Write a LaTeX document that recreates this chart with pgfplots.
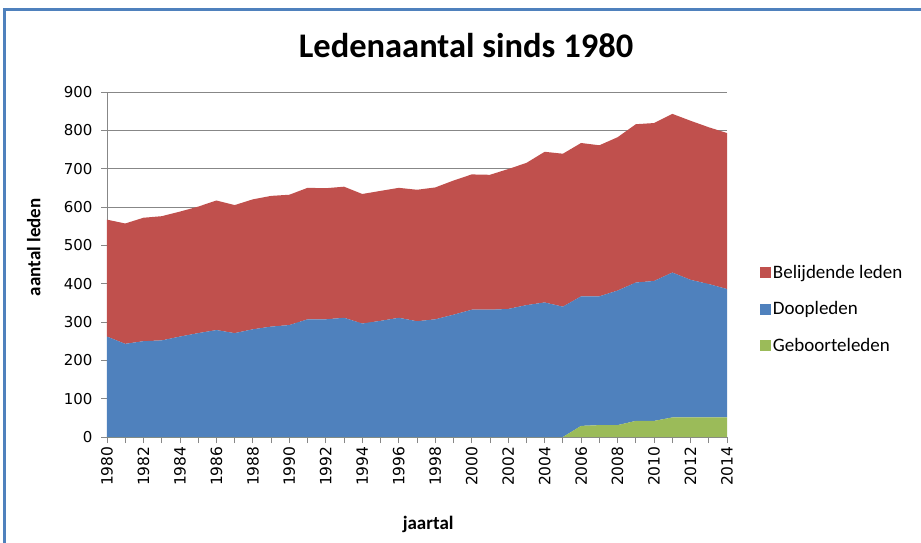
\documentclass[border=0pt]{standalone}
\usepackage{fontspec}
\setmainfont{Carlito}
\newfontfamily\dejavu{DejaVu Sans}
\usepackage{pgfplots}
\usepackage{pgfplotstable}
\pgfplotsset{compat=1.18}
\definecolor{cRed}{HTML}{C0504D}
\definecolor{cBlue}{HTML}{4F81BD}
\definecolor{cGreen}{HTML}{9BBB59}
\definecolor{cGrid}{HTML}{878787}
\definecolor{cFrame}{HTML}{4F81BD}

\pgfplotstableread{
year geb doop bel
1980 0 262 305
1981 0 243 314
1982 0 250 322
1983 0 252 324
1984 0 262 326
1985 0 271 330
1986 0 279 338
1987 0 271 334
1988 0 281 339
1989 0 288 341
1990 0 292 340
1991 0 307 343
1992 0 307 342
1993 0 311 342
1994 0 296 338
1995 0 303 339
1996 0 311 339
1997 0 302 343
1998 0 307 344
1999 0 319 350
2000 0 332 353
2001 0 332 352
2002 0 334 365
2003 0 344 371
2004 0 351 393
2005 0 340 399
2006 29 338 400
2007 31 336 394
2008 31 351 400
2009 42 361 413
2010 42 365 412
2011 51 378 414
2012 51 359 415
2013 51 348 409
2014 51 335 407
}\data

\begin{document}
\begin{tikzpicture}
\useasboundingbox (-107pt,-105pt) rectangle (814pt,437pt);
\draw[cFrame, line width=3pt] (-102.5pt,-115pt) -- (-102.5pt,427.5pt) -- (825pt,427.5pt);
\begin{axis}[
  scale only axis, width=620pt, height=345pt,
  xmin=1980, xmax=2014, ymin=0, ymax=900,
  stack plots=y,
  axis x line*=bottom, axis y line*=left,
  axis line style={cGrid, line width=0.8pt},
  ymajorgrids, grid style={cGrid, line width=0.8pt},
  ytick={0,100,...,900},
  xtick={1980,1982,...,2014},
  minor xtick={1981,1983,...,2013},
  tick align=outside,
  major tick length=6pt, minor tick length=6pt,
  tick style={cGrid, line width=0.8pt},
  x tick label style={rotate=90, anchor=east, font=\dejavu\fontsize{15.5}{16}\selectfont},
  y tick label style={xshift=-5pt, font=\dejavu\fontsize{15}{16}\selectfont},
  /pgf/number format/assume math mode=true,
  /pgf/number format/1000 sep={},
  title={Ledenaantal sinds 1980},
  title style={at={(0.579,1.118)}, anchor=center, font=\bfseries\fontsize{34.5}{36}\selectfont},
  xlabel={jaartal}, ylabel={aantal leden},
  label style={font=\bfseries\fontsize{19}{21}\selectfont},
  xlabel style={at={(axis description cs:0.518,-0.252)}, anchor=center},
  ylabel style={at={(axis description cs:-0.118,0.55)}, anchor=center},
  legend style={draw=none, fill=none, at={(1.048,0.371)}, anchor=west,
    font=\fontsize{19}{21}\selectfont, row sep=18pt},
  legend cell align=left,
  reverse legend,
  legend image code/.code={\fill[#1, draw=none] (0pt,-5.5pt) rectangle (11pt,5.5pt);},
]
\addplot[fill=cGreen, draw=none] table[x=year,y=geb]{\data} \closedcycle;
\addplot[fill=cBlue, draw=none] table[x=year,y=doop]{\data} \closedcycle;
\addplot[fill=cRed, draw=none] table[x=year,y=bel]{\data} \closedcycle;
\legend{Geboorteleden, Doopleden, Belijdende leden}
\end{axis}
\end{tikzpicture}
\end{document}
